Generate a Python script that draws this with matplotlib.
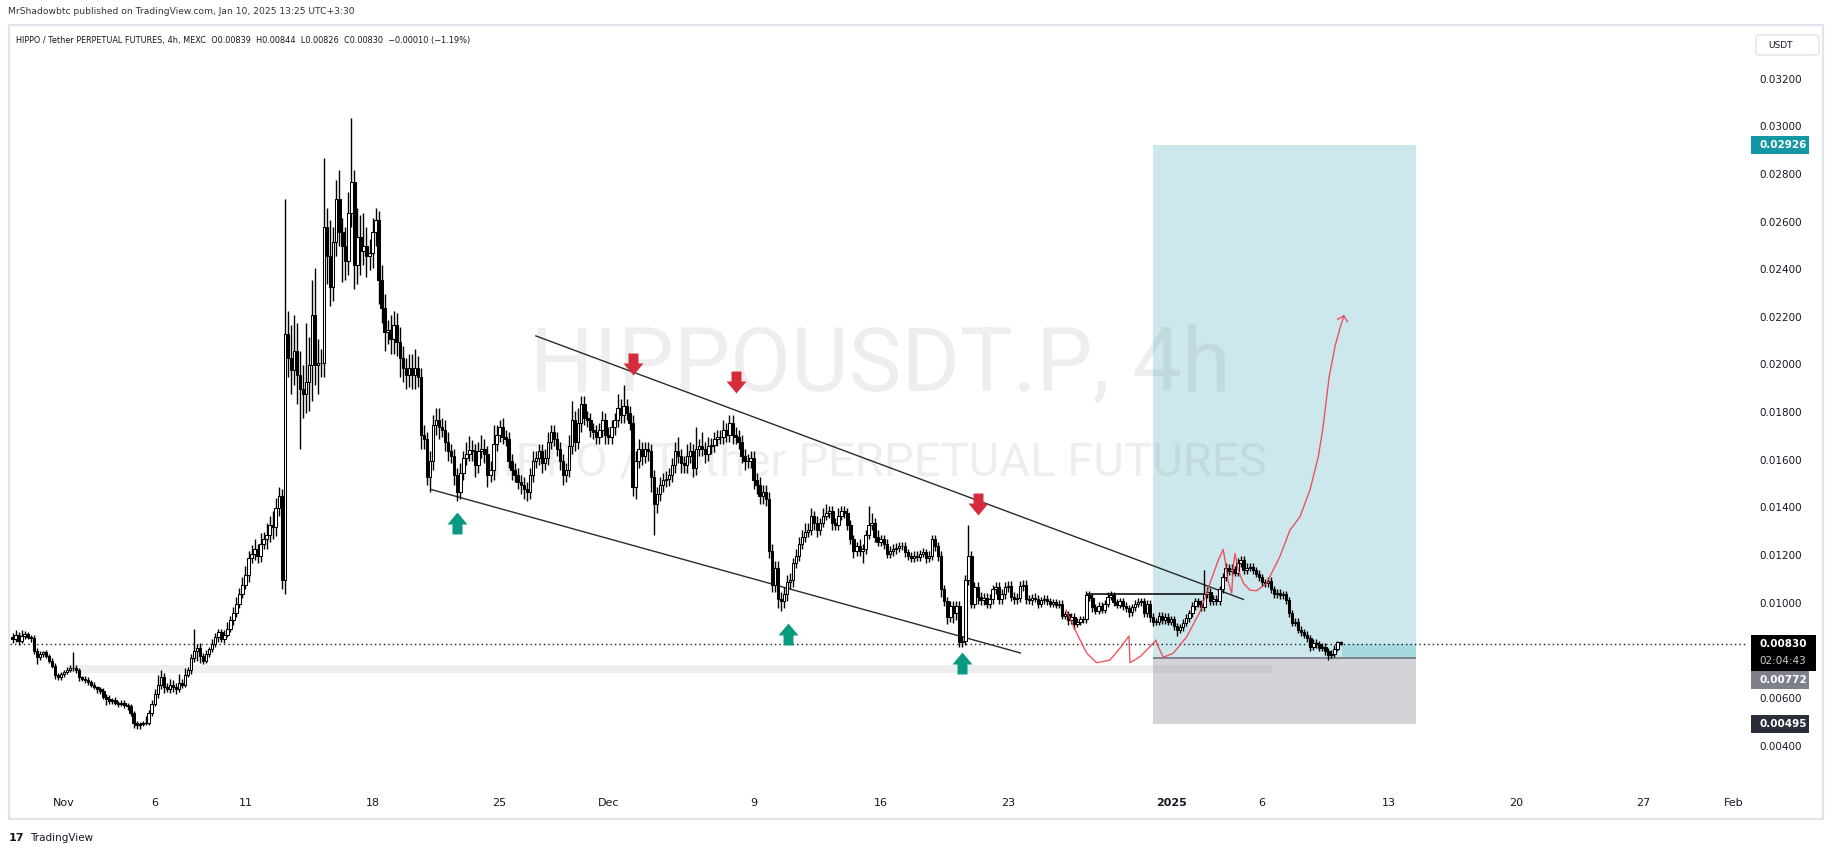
import numpy as np
import matplotlib
matplotlib.use('Agg')
import matplotlib.pyplot as plt
from matplotlib.patches import Rectangle, FancyBboxPatch
from matplotlib.path import Path

# ---------------- data (prices in units of 1e-5 USDT) ----------------
t0_day = -2.8333          # first 4h candle, days since Nov 1 00:00
first_open = 860
closes = [
    850, 870, 845, 865, 872, 860,
    855, 800, 775, 790, 795, 780,
    760, 740, 700, 690, 705, 715,
    722, 728, 730, 720, 690, 685,
    678, 670, 660, 648, 640, 632,
    610, 600, 590, 595, 585, 580,
    585, 575, 570, 540, 500, 490,
    495, 498, 500, 540, 580, 620,
    660, 690, 650, 640, 660, 650,
    640, 665, 660, 700, 720, 770,
    800, 815, 780, 760, 790, 810,
    830, 860, 880, 850, 870, 895,
    930, 960, 1000, 1040, 1080, 1120,
    1190, 1210, 1230, 1200, 1250, 1270,
    1290, 1330, 1320, 1400, 1450, 1100,
    2130, 2030, 1980, 2060, 1960, 1900,
    1880, 1930, 2000, 2210, 2000, 2010,
    2010, 2580, 2460, 2330, 2520, 2700,
    2560, 2500, 2440, 2640, 2770, 2420,
    2540, 2480, 2500, 2460, 2470, 2560,
    2610, 2360, 2240, 2140, 2150, 2110,
    2170, 2100, 2030, 1990, 1960, 1990,
    1960, 1990, 1950, 1710, 1690, 1530,
    1600, 1750, 1770, 1740, 1730, 1680,
    1640, 1620, 1540, 1470, 1550, 1610,
    1630, 1645, 1640, 1580, 1640, 1650,
    1630, 1540, 1560, 1670, 1710, 1740,
    1700, 1690, 1600, 1560, 1540, 1510,
    1500, 1480, 1470, 1540, 1600, 1610,
    1640, 1590, 1610, 1680, 1720, 1690,
    1650, 1600, 1540, 1560, 1660, 1770,
    1680, 1760, 1840, 1780, 1770, 1730,
    1720, 1700, 1730, 1770, 1710, 1700,
    1740, 1770, 1820, 1790, 1830, 1800,
    1760, 1490, 1600, 1650, 1620, 1650,
    1640, 1530, 1420, 1460, 1500, 1520,
    1525, 1540, 1580, 1640, 1620, 1590,
    1580, 1620, 1640, 1570, 1650, 1660,
    1650, 1630, 1660, 1665, 1690, 1700,
    1700, 1730, 1710, 1760, 1710, 1700,
    1680, 1620, 1600, 1600, 1610, 1520,
    1500, 1450, 1470, 1440, 1220, 1080,
    1150, 1020, 1010, 1040, 1090, 1100,
    1170, 1200, 1250, 1280, 1300, 1310,
    1370, 1340, 1310, 1340, 1370, 1380,
    1390, 1340, 1330, 1370, 1390, 1380,
    1330, 1270, 1220, 1240, 1220, 1230,
    1290, 1330, 1340, 1280, 1260, 1270,
    1250, 1210, 1220, 1230, 1235, 1240,
    1240, 1215, 1200, 1190, 1200, 1195,
    1210, 1215, 1190, 1200, 1270, 1240,
    1200, 1060, 1010, 945, 990, 960,
    990, 840, 845, 1100, 1200, 1000,
    1070, 1030, 1015, 1025, 1000, 1020,
    1060, 1070, 1020, 1040, 1070, 1075,
    1030, 1020, 1025, 1075, 1080, 1020,
    1015, 1025, 1020, 1000, 1015, 1020,
    1010, 1000, 1005, 995, 1000, 950,
    955, 930, 945, 915, 925, 935,
    935, 1035, 1025, 985, 970, 990,
    975, 1000, 1030, 1035, 1005, 995,
    1010, 990, 980, 965, 985, 1000,
    1005, 1010, 960, 1000, 945, 925,
    925, 950, 930, 945, 925, 935,
    905, 890, 900, 920, 940, 960,
    990, 1010, 1000, 985, 1040, 1050,
    1010, 1020, 1010, 1060, 1110, 1150,
    1135, 1145, 1130, 1170, 1185, 1140,
    1150, 1155, 1140, 1125, 1110, 1090,
    1085, 1095, 1060, 1040, 1045, 1035,
    1040, 1015, 960, 920, 925, 890,
    880, 870, 855, 820, 835, 830,
    815, 820, 800, 785, 790, 810,
    839, 830,
]
wick_up = [
    15, 20, 10, 25, 12, 10,
    10, 15, 12, 10, 8, 12,
    8, 12, 10, 10, 10, 8,
    10, 15, 65, 12, 10, 8,
    10, 12, 8, 10, 8, 10,
    12, 10, 15, 10, 12, 8,
    10, 12, 10, 8, 10, 8,
    10, 8, 30, 12, 15, 20,
    40, 30, 20, 15, 25, 20,
    15, 40, 20, 30, 15, 20,
    95, 15, 20, 12, 15, 10,
    20, 15, 12, 15, 20, 30,
    20, 25, 30, 25, 30, 40,
    30, 35, 40, 20, 45, 30,
    50, 40, 60, 45, 40, 30,
    570, 100, 140, 150, 120, 100,
    100, 250, 120, 150, 200, 100,
    60, 290, 80, 150, 60, 80,
    120, 60, 80, 90, 270, 50,
    120, 90, 140, 80, 60, 60,
    50, 40, 60, 60, 40, 60,
    60, 50, 60, 50, 40, 60,
    60, 80, 50, 40, 40, 30,
    40, 40, 50, 50, 40, 40,
    40, 30, 30, 30, 40, 30,
    50, 60, 40, 30, 40, 60,
    40, 30, 40, 80, 40, 30,
    40, 30, 30, 30, 30, 30,
    30, 30, 30, 30, 40, 30,
    30, 30, 40, 40, 30, 30,
    30, 30, 30, 30, 50, 80,
    40, 60, 30, 30, 30, 30,
    30, 30, 30, 40, 30, 30,
    30, 30, 60, 40, 90, 30,
    30, 30, 40, 40, 30, 30,
    30, 30, 30, 30, 30, 30,
    30, 30, 30, 40, 60, 30,
    30, 50, 40, 30, 90, 30,
    60, 30, 40, 30, 30, 30,
    30, 40, 30, 30, 30, 30,
    30, 30, 30, 30, 30, 30,
    30, 30, 30, 30, 30, 30,
    30, 30, 30, 30, 30, 30,
    20, 30, 30, 30, 40, 30,
    30, 20, 30, 20, 30, 40,
    20, 20, 20, 30, 20, 20,
    20, 20, 20, 20, 30, 20,
    20, 80, 40, 20, 30, 20,
    20, 20, 20, 20, 20, 20,
    20, 20, 15, 15, 20, 20,
    15, 20, 15, 20, 20, 20,
    20, 20, 20, 20, 20, 20,
    20, 20, 20, 20, 130, 20,
    20, 20, 20, 20, 20, 20,
    20, 20, 20, 20, 20, 20,
    20, 20, 20, 20, 20, 20,
    15, 15, 20, 15, 15, 15,
    15, 15, 15, 15, 15, 15,
    15, 15, 15, 15, 15, 15,
    15, 20, 20, 15, 15, 15,
    15, 15, 20, 20, 15, 15,
    15, 15, 15, 15, 15, 15,
    20, 15, 15, 15, 15, 15,
    15, 15, 15, 15, 15, 15,
    15, 15, 15, 15, 15, 15,
    15, 15, 15, 15, 100, 20,
    15, 15, 15, 15, 20, 20,
    15, 20, 15, 20, 15, 15,
    20, 15, 15, 15, 15, 15,
    15, 15, 15, 15, 15, 15,
    15, 15, 15, 15, 15, 15,
    15, 15, 15, 15, 15, 15,
    15, 15, 15, 15, 15, 15,
    5, 5,
]
wick_dn = [
    15, 10, 20, 10, 15, 10,
    15, 12, 30, 10, 15, 8,
    10, 12, 15, 10, 10, 12,
    10, 8, 10, 10, 15, 10,
    10, 12, 10, 8, 15, 10,
    10, 25, 10, 12, 10, 15,
    10, 12, 15, 10, 20, 15,
    15, 10, 8, 10, 12, 10,
    15, 20, 25, 10, 15, 20,
    20, 10, 15, 12, 10, 15,
    15, 40, 30, 15, 10, 12,
    15, 12, 20, 10, 15, 10,
    15, 20, 15, 20, 15, 20,
    30, 20, 25, 30, 25, 20,
    40, 30, 50, 35, 30, 40,
    60, 80, 100, 60, 120, 250,
    100, 80, 120, 150, 80, 120,
    60, 60, 120, 80, 60, 60,
    60, 150, 80, 60, 60, 100,
    80, 100, 60, 90, 60, 60,
    60, 100, 60, 80, 50, 60,
    60, 60, 80, 60, 60, 50,
    60, 60, 40, 60, 40, 30,
    60, 40, 40, 50, 30, 40,
    40, 30, 40, 40, 30, 30,
    30, 30, 40, 50, 30, 30,
    40, 50, 30, 40, 30, 30,
    30, 30, 30, 40, 30, 30,
    40, 40, 40, 30, 30, 30,
    30, 40, 30, 30, 30, 30,
    30, 40, 40, 30, 30, 30,
    40, 30, 40, 30, 30, 30,
    30, 30, 30, 30, 40, 30,
    30, 30, 30, 30, 30, 30,
    30, 40, 50, 30, 40, 30,
    40, 60, 130, 40, 30, 30,
    30, 30, 30, 30, 30, 40,
    30, 30, 30, 40, 30, 30,
    30, 40, 30, 30, 30, 30,
    30, 30, 30, 30, 40, 30,
    30, 30, 40, 30, 30, 40,
    40, 30, 30, 30, 30, 30,
    30, 40, 40, 30, 30, 30,
    30, 20, 20, 20, 20, 20,
    20, 30, 30, 20, 20, 20,
    20, 30, 20, 20, 20, 20,
    20, 20, 30, 20, 20, 50,
    20, 20, 20, 20, 20, 20,
    20, 20, 20, 20, 20, 20,
    15, 20, 15, 15, 15, 15,
    15, 15, 20, 15, 15, 20,
    20, 30, 20, 30, 20, 40,
    30, 20, 20, 20, 20, 20,
    20, 30, 20, 20, 20, 20,
    20, 20, 20, 20, 20, 20,
    20, 20, 20, 20, 20, 20,
    15, 20, 15, 20, 15, 15,
    15, 15, 15, 15, 15, 15,
    15, 20, 15, 20, 15, 15,
    15, 15, 15, 20, 15, 15,
    15, 15, 15, 15, 15, 15,
    15, 15, 15, 20, 15, 15,
    15, 15, 15, 15, 20, 20,
    15, 15, 15, 15, 15, 15,
    15, 25, 15, 15, 15, 15,
    15, 15, 15, 15, 15, 15,
    15, 15, 15, 15, 15, 15,
    15, 15, 15, 15, 15, 15,
    15, 15, 15, 15, 15, 15,
    15, 15, 15, 15, 15, 15,
    15, 15, 15, 15, 15, 15,
    15, 15, 15, 20, 15, 15,
    15, 15, 15, 20, 15, 15,
    9, 4,
]

# drawings (day since Nov 1, price 1e-5)
upper_line_days = [26.0, 64.98]
upper_line_prices = [2124, 1018]
lower_line_days = [20.20, 52.70]
lower_line_prices = [1480, 793]
range_line_days = [56.35, 62.77]
range_line_prices = [1041, 1041]
red_arrow_days = [31.35, 37.02, 50.36]
red_arrow_prices = [2006, 1930, 1418]
green_arrow_days = [21.65, 39.89, 49.48]
green_arrow_prices = [1339, 873, 751]
curve_days = [55.21, 55.80, 56.35, 56.90, 57.63, 58.18, 58.68, 58.73, 59.28, 59.83,
              60.17, 60.20, 60.57, 61.12, 61.86, 62.59, 63.14, 63.60, 63.87, 64.00,
              64.12, 64.34, 64.42, 64.52, 64.70, 64.98, 65.34, 65.71, 66.26, 66.99,
              67.55, 68.10, 68.65, 69.11, 69.35, 69.53, 69.71, 70.03, 70.30, 70.52]
curve_prices = [973, 876, 792, 752, 763, 813, 864, 752, 777, 819,
                847, 834, 775, 792, 861, 966, 1085, 1183, 1228, 1169,
                1099, 1044, 1155, 1211, 1141, 1086, 1057, 1054, 1086, 1197,
                1309, 1365, 1477, 1617, 1729, 1842, 1953, 2079, 2156, 2208]
curve_head_days = [70.18, 70.52, 70.71]
curve_head_prices = [2194, 2208, 2184]
band_days = [0.17, 66.56]
band_prices = [710, 743]
pos_days = [60.0, 74.5]
pos_target, pos_entry, pos_stop = 2926, 772, 495
last_price = 830

y_ticks = [3200, 3000, 2800, 2600, 2400, 2200, 2000, 1800, 1600, 1400, 1200, 1000, 600, 400]
x_tick_days = [0, 5, 10, 17, 24, 30, 38, 45, 52, 61, 66, 73, 80, 87, 92]
x_tick_labels = ['Nov', '6', '11', '18', '25', 'Dec', '9', '16', '23', '2025', '6', '13', '20', '27', 'Feb']

# ---------------- figure ----------------
W, H, DPI = 1835, 855, 100
fig = plt.figure(figsize=(W / DPI, H / DPI), dpi=DPI)
fig.patch.set_facecolor('white')
L, R, T, B = 10, 1747, 27, 790
ax = fig.add_axes([L / W, 1 - B / H, (R - L) / W, (B - T) / H])
ax.set_xlim(-2.975, 92.73)
ax.set_ylim(0.002177, 0.034208)
ax.axis('off')

ov = fig.add_axes([0, 0, 1, 1], zorder=5)
ov.set_xlim(0, W)
ov.set_ylim(H, 0)
ov.axis('off')
ov.patch.set_visible(False)

S = 1e-5
n = min(len(closes), len(wick_up), len(wick_dn))
c = np.array(closes[:n]) * S
o = np.concatenate([[first_open * S], c[:-1]])
hi = np.maximum(o, c) + np.array(wick_up[:n]) * S
lo = np.minimum(o, c) - np.array(wick_dn[:n]) * S
t = t0_day + np.arange(n) / 6.0

# position box
ax.add_patch(Rectangle((pos_days[0], pos_entry * S), pos_days[1] - pos_days[0],
                       (pos_target - pos_entry) * S, facecolor='#CCE8EC', edgecolor='none', zorder=1))
ax.add_patch(Rectangle((pos_days[0], pos_stop * S), pos_days[1] - pos_days[0],
                       (pos_entry - pos_stop) * S, facecolor='#D3D4D7', edgecolor='none', zorder=1))
ax.add_patch(Rectangle((t[-1] + 0.1, pos_entry * S), pos_days[1] - t[-1] - 0.1,
                       (last_price - pos_entry) * S, facecolor='#A6DADF', edgecolor='none', zorder=1.1))
ax.hlines(pos_entry * S, pos_days[0], pos_days[1], color='#787B86', lw=1.3, zorder=1.2)

# gray band
ax.add_patch(Rectangle((band_days[0], band_prices[0] * S), band_days[1] - band_days[0],
                       (band_prices[1] - band_prices[0]) * S, facecolor='#787B86', alpha=0.12,
                       edgecolor='none', zorder=1.5))

# watermark
ax.text(880, 366, 'HIPPOUSDT.P, 4h', transform=ov.transData, ha='center', va='center',
        fontsize=64, family=['Roboto', 'DejaVu Sans'], color='#787B86', alpha=0.12, zorder=2)
ax.text(868, 463, 'HIPPO / Tether PERPETUAL FUTURES', transform=ov.transData, ha='center', va='center',
        fontsize=34, family=['Roboto', 'DejaVu Sans'], color='#787B86', alpha=0.12, zorder=2)

# current price dotted line
ax.axhline(last_price * S, color='#131722', lw=1.0, ls=(0, (1, 2.2)), zorder=3)

# trend lines
ax.plot(upper_line_days, np.array(upper_line_prices) * S, color='#2a2a2a', lw=1.0, zorder=3)
ax.plot(lower_line_days, np.array(lower_line_prices) * S, color='#2a2a2a', lw=1.0, zorder=3)
ax.plot(range_line_days, np.array(range_line_prices) * S, color='#111111', lw=1.2, zorder=3)

# candles
ax.vlines(t, lo, hi, color='black', lw=1.0, zorder=4)
bull = c >= o
body = np.maximum(np.abs(c - o), 0.8 * S)
ax.bar(t, body, bottom=np.minimum(o, c), width=0.82 / 6,
       color=['white' if b else 'black' for b in bull], edgecolor='black', linewidth=0.75, zorder=5)

# red hand-drawn curve
ax.plot(curve_days, np.array(curve_prices) * S, color='#F23645', lw=1.0, alpha=0.85, zorder=6,
        solid_joinstyle='round')
ax.plot(curve_head_days, np.array(curve_head_prices) * S, color='#F23645', lw=1.0, alpha=0.85, zorder=6)

# arrows
up_path = Path([(0, 11), (10, -1), (5, -1), (5, -11), (-5, -11), (-5, -1), (-10, -1), (0, 11)], closed=True)
dn_path = Path([(0, -11), (10, 1), (5, 1), (5, 11), (-5, 11), (-5, 1), (-10, 1), (0, -11)], closed=True)
ax.plot(green_arrow_days, np.array(green_arrow_prices) * S, ls='none', marker=up_path,
        markersize=15.8, color='#089981', markeredgewidth=0, zorder=7)
ax.plot(red_arrow_days, np.array(red_arrow_prices) * S, ls='none', marker=dn_path,
        markersize=15.8, color='#D52B3A', markeredgewidth=0, zorder=7)

fig.canvas.draw()


def ypx(p):
    return H - ax.transData.transform((0, p * S))[1]


def xpx(d):
    return ax.transData.transform((d, 0))[0]


# panel border
ov.add_patch(Rectangle((9, 25), 1814, 794, fill=False, edgecolor='#E0E3EB', lw=1.5))

# header
ov.text(8, 12, 'MrShadowbtc published on TradingView.com, Jan 10, 2025 13:25 UTC+3:30',
        fontsize=6.6, color='#333333', va='center', ha='left')
ov.text(16, 40, 'HIPPO / Tether PERPETUAL FUTURES, 4h, MEXC  O0.00839  H0.00844  L0.00826  C0.00830  \u22120.00010 (\u22121.19%)',
        fontsize=5.9, color='#131722', va='center', ha='left')

# USDT box
ov.add_patch(FancyBboxPatch((1756, 35), 63, 20, boxstyle='round,pad=0,rounding_size=3',
                            facecolor='white', edgecolor='#E0E3EB', lw=1))
ov.text(1768, 45.5, 'USDT', fontsize=6.5, color='#131722', va='center', ha='left')

# y tick labels
for p in y_ticks:
    ov.text(1759, ypx(p), f'{p * S:.5f}', fontsize=7.5, color='#131722', va='center', ha='left')

# x tick labels
for d, lab in zip(x_tick_days, x_tick_labels):
    ov.text(xpx(d), 803, lab, fontsize=8, color='#131722', va='center', ha='center',
            fontweight='bold' if lab == '2025' else 'normal')

# price tags
def tag(yc, txt, bg, h=18, w=58, fg='white'):
    ov.add_patch(Rectangle((1751, yc - h / 2), w, h, facecolor=bg, edgecolor='none', zorder=10))
    ov.text(1759, yc, txt, fontsize=7.5, color=fg, va='center', ha='left', zorder=11, fontweight='bold')

tag(ypx(pos_target), f'{pos_target * S:.5f}', '#1398A3')
yl = ypx(last_price)
ov.add_patch(Rectangle((1751, yl - 9), 65, 36, facecolor='black', edgecolor='none', zorder=10))
ov.text(1759, yl, f'{last_price * S:.5f}', fontsize=7.5, color='white', va='center', ha='left',
        zorder=11, fontweight='bold')
ov.text(1759, yl + 17, '02:04:43', fontsize=7.5, color='#C8CAD0', va='center', ha='left', zorder=11)
tag(yl + 36, f'{pos_entry * S:.5f}', '#7E808A')
tag(ypx(pos_stop), f'{pos_stop * S:.5f}', '#2A2E39')

# TradingView logo
ov.text(9, 838, '17', fontsize=8, fontweight='bold', color='#131722', va='center', ha='left')
ov.text(30, 838, 'TradingView', fontsize=7.5, color='#131722', va='center', ha='left')

fig.savefig('out.png', dpi=DPI, facecolor='white')
